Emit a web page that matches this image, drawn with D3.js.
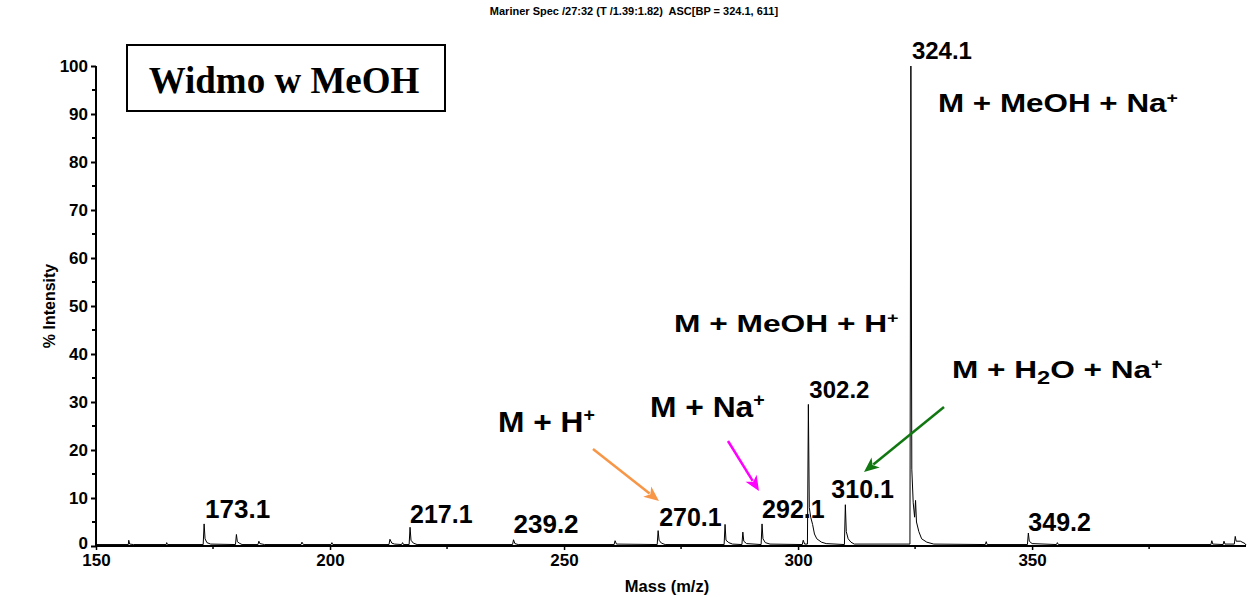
<!DOCTYPE html>
<html>
<head>
<meta charset="utf-8">
<script src="https://cdn.jsdelivr.net/npm/d3@7"></script>
<style>
  html, body { margin: 0; padding: 0; background: #ffffff; }
  svg { display: block; font-family: Arial, "Liberation Sans", Helvetica, sans-serif; }
</style>
</head>
<body>
<svg id="chart" width="1252" height="597"></svg>
<script>
// ---------------- data ----------------
const chartTitle = "Mariner Spec /27:32 (T /1.39:1.82)  ASC[BP = 324.1, 611]";
const boxTitle = "Widmo w MeOH";
const xAxisTitle = "Mass (m/z)";
const yAxisTitle = "% Intensity";

const xTickValues = [150, 200, 250, 300, 350];
const xMinorTicks = [175, 225, 275, 325, 375];
const yTickValues = [0, 10, 20, 30, 40, 50, 60, 70, 80, 90, 100];
const yMinorTicks = [5, 15, 25, 35, 45, 55, 65, 75, 85, 95];

// spectrum trace: m/z and % intensity
const massValues = [
  150.2, 156.9, 157.0, 157.2, 158.0,
  165.0, 165.1, 165.3,
  172.9, 173.1, 173.3, 173.7, 174.5,
  179.8, 180.0, 180.2, 180.6, 181.2,
  184.6, 184.8, 185.0, 186.0,
  193.8, 194.0, 194.3,
  200.2, 200.4, 200.6,
  212.6, 212.8, 213.2, 213.8,
  215.3, 215.5, 215.7,
  216.9, 217.1, 217.3, 217.8, 218.6,
  239.0, 239.2, 239.5, 240.2,
  260.7, 260.9, 261.2,
  269.9, 270.1, 270.3, 270.8, 271.6,
  284.2, 284.4, 284.6, 285.2, 286.0,
  288.0, 288.2, 288.4, 289.0,
  292.1, 292.3, 292.5, 293.0, 294.0,
  300.9, 301.1, 301.4,
  302.0, 302.2, 302.4, 302.7, 303.1, 303.5, 304.0, 305.0, 306.0,
  309.9, 310.1, 310.3, 310.7, 311.3, 312.0,
  323.9, 324.1, 324.3, 324.6, 324.9, 325.1, 325.3, 325.8, 326.4, 327.5, 329.0,
  340.0, 340.2, 340.4,
  349.0, 349.2, 349.4, 350.0,
  355.2, 355.4, 355.6,
  388.2, 388.4, 388.6,
  390.8, 391.0, 391.2,
  393.2, 393.4, 393.6, 394.5, 395.5
];
const intensityValues = [
  0.3, 0.3, 1.2, 0.4, 0.3,
  0.3, 0.7, 0.3,
  0.3, 4.6, 1.5, 0.7, 0.4,
  0.3, 2.4, 0.9, 0.6, 0.3,
  0.3, 1.0, 0.5, 0.3,
  0.3, 0.8, 0.3,
  0.3, 0.7, 0.3,
  0.3, 1.4, 0.6, 0.4,
  0.3, 0.7, 0.3,
  0.3, 3.9, 1.2, 0.6, 0.3,
  0.3, 1.3, 0.5, 0.3,
  0.3, 1.1, 0.4,
  0.3, 3.2, 1.2, 0.6, 0.3,
  0.3, 4.5, 1.2, 0.7, 0.4,
  0.3, 2.9, 1.0, 0.5,
  0.3, 4.6, 1.5, 0.7, 0.4,
  0.3, 1.2, 0.4,
  0.4, 29.5, 8.0, 6.0, 4.5, 2.5, 1.5, 0.8, 0.5,
  0.3, 8.6, 3.0, 1.5, 0.8, 0.4,
  0.4, 100, 16, 9.0, 6.0, 9.5, 5.0, 3.0, 1.5, 0.8, 0.4,
  0.3, 0.9, 0.3,
  0.3, 2.7, 1.0, 0.5,
  0.3, 0.7, 0.3,
  0.3, 1.1, 0.4,
  0.3, 1.0, 0.4,
  0.4, 2.0, 1.0, 1.0, 0.5
];

// peak labels
const peakLabelMz = [173.1, 217.1, 239.2, 270.1, 292.1, 302.2, 310.1, 324.1, 349.2];
const peakLabelText = ["173.1", "217.1", "239.2", "270.1", "292.1", "302.2", "310.1", "324.1", "349.2"];

// ion annotations
const ionNames = ["M + MeOH + Na", "M + MeOH + H", "M + H", "M + Na", "M + H2O + Na"];

// ---------------- layout ----------------
const plot = { left: 96, right: 1246, top: 66, bottom: 546 };
const SANS = "Arial, 'Liberation Sans', Helvetica, sans-serif";
const SERIF = "'Liberation Serif', 'Times New Roman', Times, serif";

const x = d3.scaleLinear().domain([150, 395.7]).range([plot.left, plot.right]);
const y = d3.scaleLinear().domain([0, 100]).range([plot.bottom, plot.top]);

const svg = d3.select("#chart");

// title
svg.append("text")
  .attr("x", 634).attr("y", 15)
  .attr("text-anchor", "middle")
  .style("font-family", SANS)
  .attr("font-size", 11).attr("font-weight", "bold")
  .style("white-space", "pre")
  .text(chartTitle);

// spectrum
const pts = massValues.map((m, i) => [m, intensityValues[i]]);
pts.unshift([150, 0.2]);
pts.push([395.7, 0.2]);
svg.append("path")
  .datum(pts)
  .attr("fill", "none")
  .attr("stroke", "#000")
  .attr("stroke-width", 1)
  .attr("d", d3.line().x(d => x(d[0])).y(d => y(d[1])));

// y axis
const yAxis = d3.axisLeft(y).tickValues(yTickValues).tickSize(5).tickPadding(3);
const gy = svg.append("g").attr("transform", `translate(${plot.left},0)`).call(yAxis);
gy.select(".domain").attr("stroke-width", 2).attr("d", `M0,${plot.top}V${plot.bottom}`);
gy.selectAll(".tick line").attr("stroke-width", 2);
gy.selectAll(".tick text").attr("font-size", 17).attr("font-weight", "bold")
  .style("font-family", SANS).attr("fill", "#000")
  .attr("dy", d => d === 0 ? "0.12em" : "0.32em");
gy.selectAll(".minor").data(yMinorTicks).enter().append("line")
  .attr("x1", -4).attr("x2", 0).attr("y1", d => y(d)).attr("y2", d => y(d))
  .attr("stroke", "#000").attr("stroke-width", 2);

// x axis
const xAxis = d3.axisBottom(x).tickValues(xTickValues).tickSize(4).tickPadding(4);
const gx = svg.append("g").attr("transform", `translate(0,${plot.bottom})`).call(xAxis);
gx.select(".domain").attr("stroke-width", 2).attr("d", `M${plot.left},0H${plot.right}`);
gx.selectAll(".tick line").attr("stroke-width", 1.5);
gx.selectAll(".tick text").attr("font-size", 17).attr("font-weight", "bold")
  .style("font-family", SANS).attr("fill", "#000");
gx.selectAll(".minor").data(xMinorTicks).enter().append("line")
  .attr("x1", d => x(d)).attr("x2", d => x(d)).attr("y1", 0).attr("y2", 3)
  .attr("stroke", "#000").attr("stroke-width", 1.5);

// axis titles
svg.append("text")
  .attr("x", 667).attr("y", 592)
  .attr("text-anchor", "middle")
  .style("font-family", SANS)
  .attr("font-size", 16.5).attr("font-weight", "bold")
  .text(xAxisTitle);
svg.append("text")
  .attr("transform", `translate(55,${(plot.top + plot.bottom) / 2}) rotate(-90)`)
  .attr("text-anchor", "middle")
  .style("font-family", SANS)
  .attr("font-size", 16).attr("font-weight", "bold")
  .text(yAxisTitle);

// box title
svg.append("rect")
  .attr("x", 127).attr("y", 45).attr("width", 318).attr("height", 66)
  .attr("fill", "#fff").attr("stroke", "#000").attr("stroke-width", 2);
svg.append("text")
  .attr("x", 284).attr("y", 93)
  .attr("text-anchor", "middle")
  .style("font-family", SERIF)
  .attr("font-size", 37).attr("font-weight", "bold")
  .text(boxTitle);

// peak labels: [dx from peak, baseline y, font size]
const labelPlace = {
  "173.1": [1, 518, 26], "217.1": [0, 523, 25], "239.2": [0, 533, 26],
  "270.1": [1, 526, 25], "292.1": [1, 518, 25], "302.2": [1, 398, 24],
  "310.1": [-14, 498, 25], "324.1": [1, 59, 24], "349.2": [0, 531, 25]
};
peakLabelMz.forEach((m, i) => {
  const p = labelPlace[peakLabelText[i]];
  svg.append("text")
    .attr("x", x(m) + p[0]).attr("y", p[1])
    .style("font-family", SANS)
    .attr("font-size", p[2]).attr("font-weight", "bold")
    .text(peakLabelText[i]);
});

// ion annotations: left x, baseline y, font size, target width
const ionPlace = [
  { x: 938, y: 112, fs: 25, w: 240 },
  { x: 674, y: 332, fs: 24, w: 225 },
  { x: 498, y: 432, fs: 29, w: 97 },
  { x: 650, y: 417, fs: 30, w: 115 },
  { x: 952, y: 378, fs: 24, w: 211 }
];
ionNames.forEach((name, i) => {
  const p = ionPlace[i];
  const g = svg.append("g").attr("transform", `translate(${p.x},${p.y})`);
  const t = g.append("text").attr("x", 0).attr("y", 0)
    .style("font-family", SANS)
    .attr("font-size", p.fs).attr("font-weight", "bold");
  if (name.includes("H2O")) {
    t.append("tspan").text("M + H");
    t.append("tspan").attr("dy", p.fs * 0.25).attr("font-size", p.fs * 0.75).text("2");
    t.append("tspan").attr("dy", -p.fs * 0.25).text("O + Na");
  } else {
    t.append("tspan").text(name);
  }
  t.append("tspan").attr("dy", -p.fs * 0.38).attr("font-size", p.fs * 0.62).text("+");
  const bw = t.node().getBBox().width;
  g.attr("transform", `translate(${p.x},${p.y}) scale(${p.w / bw},1)`);
});

// arrows
const arrows = [
  { x1: 593, y1: 449, x2: 659, y2: 501, c: "#f79646" },
  { x1: 728, y1: 441, x2: 759, y2: 491, c: "#ff00ff" },
  { x1: 944, y1: 407, x2: 864, y2: 472, c: "#117711" }
];
arrows.forEach(a => {
  const ang = Math.atan2(a.y2 - a.y1, a.x2 - a.x1);
  const L = 15, Wd = 6.5;
  const bx = a.x2 - L * Math.cos(ang), by = a.y2 - L * Math.sin(ang);
  svg.append("line")
    .attr("x1", a.x1).attr("y1", a.y1).attr("x2", bx + 3 * Math.cos(ang)).attr("y2", by + 3 * Math.sin(ang))
    .attr("stroke", a.c).attr("stroke-width", 2.5);
  const px = -Math.sin(ang), py = Math.cos(ang);
  svg.append("path")
    .attr("d", `M${a.x2},${a.y2}L${bx + Wd * px},${by + Wd * py}L${bx + 4 * Math.cos(ang)},${by + 4 * Math.sin(ang)}L${bx - Wd * px},${by - Wd * py}Z`)
    .attr("fill", a.c);
});
</script>
</body>
</html>
